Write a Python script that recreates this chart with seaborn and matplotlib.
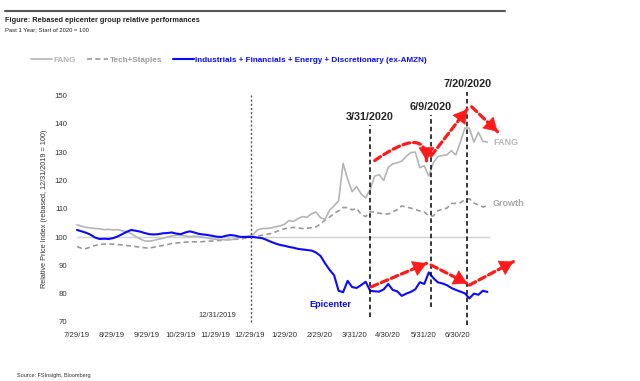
import pandas as pd
import matplotlib.pyplot as plt
import seaborn as sns

# Series, one point every 4 days from 7/29/2019
fang = [104.3, 103.8, 103.4, 103.2, 103.0, 102.9, 102.6, 102.7, 102.5, 102.6,
        102.2, 101.9, 101.2, 100.2, 99.3, 98.6, 98.5, 98.8, 99.2, 99.5,
        100.0, 100.4, 100.6, 100.7, 100.4, 100.1, 100.3, 100.2, 99.9, 99.6,
        99.3, 99.2, 99.1, 99.0, 99.0, 99.3, 99.8, 100.1, 100.4, 100.8,
        102.5, 103.0, 103.0, 103.2, 103.6, 103.9, 104.5, 105.8, 105.5, 106.5,
        107.2, 107.0, 108.2, 108.8, 106.8, 106.2, 109.5, 111.0, 112.8, 126.0,
        120.5, 116.0, 117.8, 115.2, 113.8, 116.8, 121.5, 122.0, 120.0, 124.6,
        125.8, 126.2, 126.8, 128.5, 129.8, 130.0, 124.5, 125.2, 121.5, 126.2,
        128.4, 128.8, 129.0, 130.5, 129.0, 133.5, 138.5, 138.5, 133.5, 137.0,
        133.8, 133.5]
tech_staples = [96.6, 96.0, 95.9, 96.5, 97.0, 97.4, 97.5, 97.5, 97.5, 97.3,
                97.2, 97.0, 96.8, 96.6, 96.4, 96.2, 96.1, 96.4, 96.7, 97.0,
                97.3, 97.7, 97.9, 98.0, 98.2, 98.3, 98.3, 98.2, 98.4, 98.5,
                98.6, 98.7, 98.8, 99.0, 99.2, 99.2, 99.2, 99.5, 99.8, 100.1,
                100.4, 100.6, 100.9, 101.2, 101.8, 102.4, 102.9, 103.2, 103.4, 103.2,
                103.0, 103.1, 103.3, 103.6, 104.6, 106.0, 107.0, 108.3, 109.2, 110.4,
                110.4, 109.6, 110.1, 108.0, 107.2, 109.0, 108.7, 108.4, 108.2, 108.1,
                108.9, 109.6, 111.0, 110.6, 110.2, 109.7, 109.2, 108.8, 107.5, 107.4,
                109.3, 109.8, 110.2, 111.8, 111.9, 112.1, 113.2, 113.5, 112.0, 111.3,
                110.6, 111.0]
epicenter = [102.5, 102.0, 101.5, 100.8, 99.8, 99.3, 99.4, 99.3, 99.6, 100.2,
             101.0, 101.8, 102.5, 102.2, 101.9, 101.4, 101.0, 100.9, 101.0, 101.3,
             101.4, 101.6, 101.2, 101.0, 101.6, 102.0, 101.6, 101.1, 100.9, 100.7,
             100.4, 100.1, 100.0, 100.4, 100.7, 100.5, 100.1, 100.0, 100.0, 100.0,
             99.8, 99.6, 99.0, 98.3, 97.7, 97.2, 96.9, 96.5, 96.2, 95.8,
             95.6, 95.4, 95.2, 94.5, 93.3, 90.7, 88.4, 86.5, 81.0, 80.5,
             84.5, 82.3, 82.0, 83.0, 84.2, 81.0, 80.8, 80.7, 81.5, 83.4,
             81.3, 80.8, 79.2, 80.0, 80.6, 81.5, 84.0, 83.4, 87.5, 85.5,
             84.0, 83.6, 83.0, 82.0, 81.3, 80.7, 80.1, 78.3, 80.0, 79.6,
             81.0, 80.6]
dates = pd.date_range('2019-07-29', periods=len(fang), freq='4D')

tick_dates = ['2019-07-29', '2019-08-29', '2019-09-29', '2019-10-29', '2019-11-29',
              '2019-12-29', '2020-01-29', '2020-02-29', '2020-03-31', '2020-04-30',
              '2020-05-31', '2020-06-30']
tick_labels = ['7/29/19', '8/29/19', '9/29/19', '10/29/19', '11/29/19', '12/29/19',
               '1/29/20', '2/29/20', '3/31/20', '4/30/20', '5/31/20', '6/30/20']
y_ticks = [70, 80, 90, 100, 110, 120, 130, 140, 150]

# event lines: (label, line date, top, bottom)
events = [('3/31/2020', '2020-04-14', 139.6, 71.8),
          ('6/9/2020', '2020-06-07', 143.1, 75.4),
          ('7/20/2020', '2020-07-09', 151.2, 68.9)]

# red trend arrows: (start date, start value, end date, end value, curved)
arrows = [('2020-04-18', 127.0, '2020-06-03', 126.9, True),
          ('2020-06-07', 128.6, '2020-07-09', 145.1, False),
          ('2020-07-13', 146.0, '2020-08-05', 137.2, False),
          ('2020-04-15', 82.4, '2020-06-03', 90.7, False),
          ('2020-06-07', 90.1, '2020-07-09', 83.6, False),
          ('2020-07-11', 83.0, '2020-08-19', 91.3, False)]

sns.set_style('white')
plt.rcParams['font.family'] = ['Liberation Sans', 'DejaVu Sans']

fig = plt.figure(figsize=(6.4, 3.81), dpi=100)
ax = fig.add_axes([0.1116, 0.1402, 0.7134, 0.6241])

fang_c, tech_c, epi_c = '#b5b5b5', '#9a9a9a', '#0a0aff'
ax.hlines(100, dates[0], dates[-1] + pd.Timedelta(days=2), color='#d0d0d0', lw=1)
sns.lineplot(x=dates, y=tech_staples, ax=ax, color=tech_c, lw=1.2,
             linestyle=(0, (3, 2)), label='Tech+Staples')
sns.lineplot(x=dates, y=fang, ax=ax, color=fang_c, lw=1.2, label='FANG')
sns.lineplot(x=dates, y=epicenter, ax=ax, color=epi_c, lw=1.5,
             label='Industrials + Financials + Energy + Discretionary (ex-AMZN)')

ax.set_xlim(pd.Timestamp('2019-07-24'), pd.Timestamp('2020-09-01'))
ax.set_ylim(68, 152)
ax.set_xticks(pd.to_datetime(tick_dates))
ax.set_xticklabels(tick_labels)
ax.set_yticks(y_ticks)
ax.tick_params(length=0, labelsize=5.6, colors='#333333', pad=3)
for s in ax.spines.values():
    s.set_visible(False)
ax.set_xlabel('')
ax.set_ylabel('Relative Price Index (rebased, 12/31/2019 = 100)', fontsize=5.2, color='#333333')
ax.yaxis.set_label_coords(-0.051, 0.5)

# start of 2020 line
ax.vlines(pd.Timestamp('2019-12-30'), 70, 150, color='#555555', lw=1, linestyle=(0, (1.5, 1.5)))
ax.text(pd.Timestamp('2019-12-17'), 72.2, '12/31/2019', ha='right', va='center',
        fontsize=5.4, color='#333333')

for label, d, top, bottom in events:
    d = pd.Timestamp(d)
    ax.vlines(d, bottom, top, color='black', lw=1.1, linestyle=(0, (3, 2)))
    ax.text(d, top + 1.0, label, ha='center', va='bottom', fontsize=7.8,
            fontweight='bold')

red = '#ff1a1a'
for d0, v0, d1, v1, curved in arrows:
    d0, d1 = pd.Timestamp(d0), pd.Timestamp(d1)
    conn = 'angle3,angleA=35,angleB=90' if curved else 'arc3'
    # dashed shaft
    ax.annotate('', xy=(d1, v1), xytext=(d0, v0),
                arrowprops=dict(arrowstyle='-', color=red, lw=2.3,
                                linestyle=(0, (2.2, 1.2)), connectionstyle=conn,
                                shrinkA=0, shrinkB=0))
    # solid head
    if curved:
        tail = (d1, v1 + 1.5)
    else:
        tail = (d0 + (d1 - d0) * 0.85, v0 + (v1 - v0) * 0.85)
    ax.annotate('', xy=(d1, v1), xytext=tail,
                arrowprops=dict(arrowstyle='-|>,head_length=0.75,head_width=0.45',
                                color=red, lw=0.5, shrinkA=0, shrinkB=0,
                                mutation_scale=12))

ax.text(pd.Timestamp('2020-08-01'), 133.5, 'FANG', color='#b8b8b8', fontsize=6.5,
        fontweight='bold', va='center', ha='left')
ax.text(pd.Timestamp('2020-08-01'), 111.9, 'Growth', color='#a8a8a8', fontsize=6.5,
        fontweight='bold', va='center', ha='left')
ax.text(pd.Timestamp('2020-03-28'), 76.2, 'Epicenter', color=epi_c, fontsize=6.6,
        fontweight='bold', va='center', ha='right')

# legend at the top
handles, labels = ax.get_legend_handles_labels()
order = [1, 0, 2]
ax.get_legend().remove()
leg = fig.legend([handles[i] for i in order], [labels[i] for i in order],
                 loc='center', bbox_to_anchor=(0.358, 0.843), ncol=3, frameon=False,
                 handlelength=2.6, handletextpad=0.2, columnspacing=1.3,
                 prop={'weight': 'bold', 'size': 5.85})
for txt, c in zip(leg.get_texts(), [fang_c, tech_c, epi_c]):
    txt.set_color(c)

# header and footer
fig.add_artist(plt.Line2D([5 / 640, 505 / 640], [1 - 11 / 381] * 2, color='#555555', lw=1.5))
fig.text(5 / 640, 1 - 20 / 381, 'Figure: Rebased epicenter group relative performances',
         fontsize=5.3, fontweight='bold', va='center', ha='left', color='#222222')
fig.text(5 / 640, 1 - 30 / 381, 'Past 1 Year; Start of 2020 = 100', fontsize=4.2,
         va='center', ha='left', color='#222222')
fig.text(17 / 640, 1 - 375.7 / 381, 'Source: FSInsight, Bloomberg', fontsize=4,
         va='center', ha='left', color='#333333')

fig.savefig('out.png', dpi=100)
